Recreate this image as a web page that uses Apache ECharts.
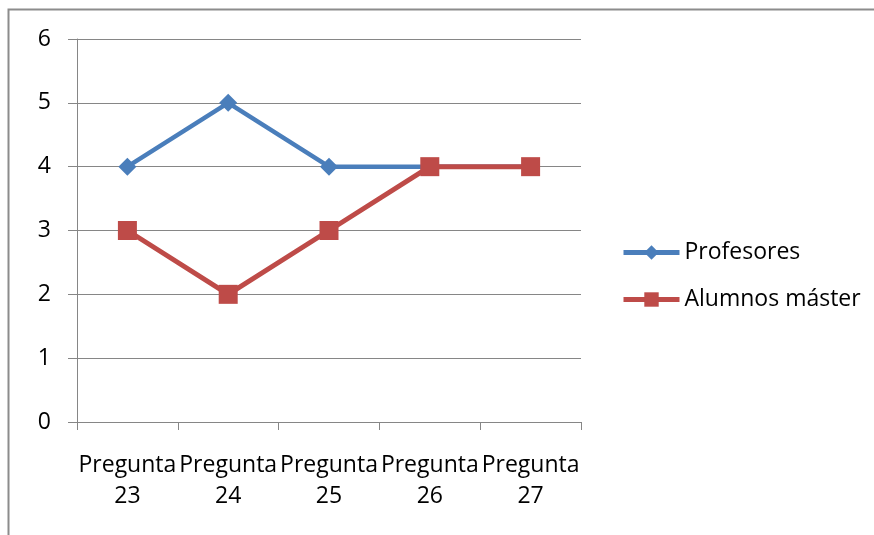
<!DOCTYPE html>
<html>
<head>
<meta charset="utf-8">
<script src="https://cdn.jsdelivr.net/npm/echarts@6/dist/echarts.min.js"></script>
<style>
  html, body { margin: 0; padding: 0; background: #fff; }
  #chart { width: 874px; height: 535px; }
</style>
</head>
<body>
<div id="chart"></div>
<script>
// Question labels along the x axis
const categories = ['Pregunta\n23', 'Pregunta\n24', 'Pregunta\n25', 'Pregunta\n26', 'Pregunta\n27'];
// Average answers per group
const profesores = [4, 5, 4, 4, 4];
const alumnosMaster = [3, 2, 3, 4, 4];
// Value axis ticks
const yTicks = [0, 1, 2, 3, 4, 5, 6];

const FONT = '"Open Sans", "Noto Sans", sans-serif';
const GRID_GRAY = '#868686';
const BLUE = '#4A7EBB';
const RED = '#BE4B48';

const chart = echarts.init(document.getElementById('chart'), null, { renderer: 'canvas' });

chart.setOption({
  backgroundColor: '#ffffff',
  animation: false,
  graphic: [{
    type: 'rect',
    shape: { x: 8.5, y: 9.5, width: 900, height: 600 },
    style: { fill: 'none', stroke: '#8c8c8c', lineWidth: 2 },
    silent: true
  }],
  grid: { left: 77, right: 293, top: 39, bottom: 113 },
  legend: {
    orient: 'vertical',
    left: 616,
    top: 236,
    itemWidth: 56,
    itemHeight: 18,
    itemGap: 24,
    textStyle: { fontFamily: FONT, fontSize: 23, color: '#000' },
    data: [
      { name: 'Profesores', lineStyle: { width: 5 } },
      { name: 'Alumnos máster', lineStyle: { width: 5 } }
    ]
  },
  xAxis: {
    type: 'category',
    data: categories,
    boundaryGap: true,
    axisLine: { lineStyle: { color: GRID_GRAY, width: 1 } },
    axisTick: { show: true, length: 8, lineStyle: { color: GRID_GRAY } },
    axisLabel: {
      interval: 0,
      margin: 28,
      fontFamily: FONT,
      fontSize: 23,
      lineHeight: 31,
      color: '#000'
    },
    splitLine: { show: false }
  },
  yAxis: {
    type: 'value',
    min: yTicks[0],
    max: yTicks[yTicks.length - 1],
    interval: 1,
    axisLine: { show: true, lineStyle: { color: GRID_GRAY, width: 1 } },
    axisTick: { show: true, length: 9, lineStyle: { color: GRID_GRAY } },
    axisLabel: { margin: 26, fontFamily: FONT, fontSize: 23, color: '#000' },
    splitLine: { show: true, lineStyle: { color: GRID_GRAY, width: 1 } }
  },
  series: [
    {
      name: 'Profesores',
      type: 'line',
      data: profesores,
      symbol: 'diamond',
      symbolSize: 18,
      itemStyle: { color: BLUE },
      lineStyle: { color: BLUE, width: 4.5 }
    },
    {
      name: 'Alumnos máster',
      type: 'line',
      data: alumnosMaster,
      symbol: 'rect',
      symbolSize: 19,
      itemStyle: { color: RED },
      lineStyle: { color: RED, width: 5 }
    }
  ]
});
</script>
</body>
</html>
